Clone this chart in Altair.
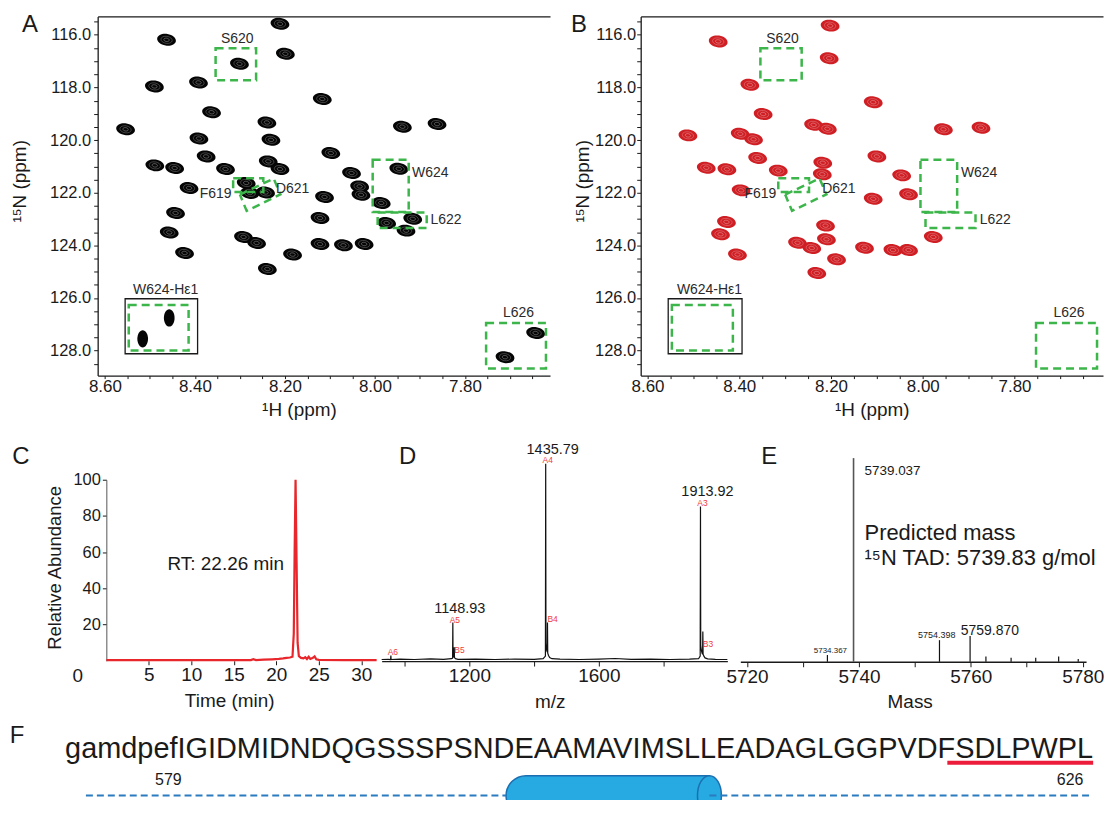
import altair as alt
import pandas as pd

W, H = 1100, 792
FONT = "Liberation Sans"
INK = "#1a1a1a"
GREEN = "#3cb54a"
RED = "#e8262b"
BLACKPEAK = "#050505"
REDPEAK = "#cf1f24"
ELL = "M-1,0A1,0.62,0,1,0,1,0A1,0.62,0,1,0,-1,0Z"
VELL = "M-0.62,0A0.62,1,0,1,0,0.62,0A0.62,1,0,1,0,-0.62,0Z"

# ---------------- Panel A: HSQC peaks (1H ppm, 15N ppm) ----------------
a_h = [8.211, 8.463, 8.199, 8.301, 8.490, 8.392, 8.117, 8.363, 8.554, 8.240,
       7.939, 7.862, 8.391, 8.231, 8.098, 8.375, 8.237, 8.211, 8.489, 8.445,
       8.332, 8.052, 7.947, 8.413, 8.286, 8.243, 8.278, 8.034, 8.031, 8.112,
       7.986, 7.916, 7.974, 7.931, 8.122, 8.443, 8.457, 8.292, 8.263, 8.122,
       8.070, 8.024, 8.423, 8.183, 8.239, 7.711, 7.643]
a_n = [115.58, 116.19, 116.72, 117.10, 117.96, 117.81, 118.44, 118.94, 119.59, 119.33,
       119.49, 119.39, 119.94, 119.99, 120.49, 120.62, 120.81, 121.10, 120.96, 121.06,
       121.10, 121.25, 121.09, 121.82, 121.63, 121.99, 122.01, 121.76, 122.08, 122.16,
       122.39, 122.99, 123.15, 123.44, 122.96, 122.77, 123.51, 123.68, 123.91, 123.95,
       124.00, 123.95, 124.29, 124.35, 124.90, 128.25, 127.33]
# inset (W624 side chain) peaks in panel A
inset_peak_h = [8.457, 8.516]
inset_peak_n = [126.76, 127.55]

# ---------------- Panel B: HSQC peaks ----------------
b_h = [8.202, 8.446, 8.204, 8.377, 8.108, 8.348, 8.512, 8.238, 8.208, 7.955,
       7.873, 8.398, 8.369, 8.100, 8.360, 8.218, 8.472, 8.427, 8.315, 8.046,
       8.219, 8.396, 8.031, 8.108, 8.428, 8.212, 8.441, 7.977, 8.210, 8.273,
       8.242, 8.127, 8.065, 8.031, 8.404, 8.188, 8.231]
b_n = [115.65, 116.25, 116.89, 117.90, 118.56, 119.01, 119.82, 119.42, 119.57, 119.59,
       119.53, 119.76, 119.97, 120.62, 120.68, 120.86, 121.05, 121.11, 121.16, 121.34,
       121.30, 121.91, 122.06, 122.23, 123.11, 123.25, 123.58, 123.68, 123.77, 123.90,
       124.10, 124.09, 124.18, 124.18, 124.35, 124.53, 125.05]

# dashed residue boxes (shared by A and B)
box_h1 = [8.354, 8.315, 8.005, 7.994, 7.753, 8.547]
box_h2 = [8.264, 8.248, 7.925, 7.885, 7.620, 8.414]
box_n1 = [116.51, 121.45, 120.75, 122.75, 126.95, 126.27]
box_n2 = [117.73, 121.97, 122.73, 123.34, 128.68, 128.00]
d621_h = [8.300, 8.225, 8.210, 8.285, 8.300]
d621_n = [122.07, 121.46, 122.06, 122.69, 122.07]
inset_h = [8.555, 8.394]
inset_n = [126.03, 128.12]
lab_text = ["S620", "F619", "D621", "W624", "L622", "L626", "W624-H\u03b51"]
lab_h = [8.306, 8.354, 8.183, 7.877, 7.842, 7.681, 8.465]
lab_n = [116.16, 122.04, 121.86, 121.25, 123.03, 126.57, 125.68]

# ---------------- Panel C: chromatogram ----------------
c_time = [0, 4, 8, 12, 16, 17.0, 17.3, 17.6, 18.5, 19.5,
          20.3, 20.8, 21.2, 21.6, 21.9, 22.05, 22.15, 22.26, 22.38, 22.5,
          22.65, 22.9, 23.2, 23.4, 23.6, 23.8, 24.0, 24.3, 24.5, 24.7,
          25.0, 28.0, 31.8]
c_abund = [0.4, 0.4, 0.4, 0.4, 0.4, 0.4, 0.9, 0.4, 0.6, 0.8,
           1.0, 1.3, 1.6, 1.8, 2.2, 15, 60, 100, 55, 10,
           2.5, 1.6, 1.3, 2.0, 1.0, 2.2, 1.0, 1.6, 2.4, 0.8,
           0.5, 0.4, 0.4]

# ---------------- Panel D: ESI m/z spectrum ----------------
d_mz = [929, 950, 956.8, 957.5, 958.3, 985, 1030, 1080, 1120, 1145,
        1148.2, 1148.93, 1149.6, 1150.6, 1152.6, 1153.3, 1154.0, 1157, 1165, 1220,
        1280, 1340, 1400, 1428, 1434.9, 1435.79, 1436.6, 1437.6, 1438.8, 1440.6,
        1441.3, 1442.1, 1444.5, 1448, 1455, 1480, 1540, 1600, 1650, 1700,
        1760, 1820, 1880, 1908, 1913.0, 1913.92, 1914.7, 1915.8, 1917.2, 1919.0,
        1920.5, 1921.2, 1922.0, 1924.5, 1928, 1936, 1960, 1997]
d_int = [0.8, 0.9, 0.8, 2.8, 0.8, 1.0, 0.8, 1.1, 0.9, 1.2,
         1.5, 19.5, 3.5, 2.5, 1.8, 7.0, 1.8, 1.2, 0.9, 1.0,
         0.8, 1.0, 0.9, 1.2, 2.5, 100, 9.0, 7.0, 5.5, 4.5,
         19.5, 4.0, 2.8, 1.8, 1.2, 1.0, 0.8, 1.0, 1.3, 0.9,
         1.0, 0.8, 1.0, 1.2, 2.5, 78.4, 8.0, 6.5, 5.0, 4.0,
         3.5, 15.0, 3.5, 2.5, 1.6, 1.1, 0.9, 0.8]
d_peak_lab = ["1435.79", "1913.92", "1148.93"]
d_peak_mz = [1435.79, 1913.92, 1148.93]
d_peak_y = [107, 85.9, 26.3]
d_ion_a = ["A4", "A3", "A5", "A6"]
d_ion_a_mz = [1435.79, 1913.92, 1148.93, 957.5]
d_ion_a_y = [101.7, 80.3, 20.7, 4.5]
d_ion_b = ["B4", "B5", "B3"]
d_ion_b_mz = [1441.3, 1153.3, 1921.2]
d_ion_b_y = [21.2, 5.7, 8.7]

# ---------------- Panel E: deconvoluted mass ----------------
e_mass = [5734.367, 5739.037, 5754.398, 5759.870, 5762.7, 5767.2, 5771.6, 5775.7, 5779.2]
e_int = [3.3, 100, 10.6, 12.7, 2.6, 2.0, 2.0, 2.6, 1.3]
e_lab = ["5739.037", "5734.367", "5754.398", "5759.870"]
e_lab_m = [5741.0, 5734.9, 5753.9, 5763.4]
e_lab_y = [93.6, 5.1, 13.1, 15.2]
e_lab_size = [13.5, 8, 9, 14]
e_note = ["Predicted mass", "\u00b9\u2075N TAD: 5739.83 g/mol"]
e_note_m = [5741.0, 5741.0]
e_note_y = [63.1, 50.8]

# ---------------- Panel F: sequence ----------------
tag_seq = "gamdpef"
core_seq = "IGIDMIDNDQGSSSPSNDEAAMAVIMSLLEADAGLGGPVDFSDLPWPL"
res_first, res_last = 579, 626
line_span = [574.7, 627.1]
helix_span = [596.6, 607.2]
motif_span = [619.6, 627.2]


def S(domain, rng):
    return alt.Scale(domain=domain, range=rng, nice=False, zero=False)


# ======================= NMR panels =======================
def nmr_panel(ph, pn, color, left, right, ytitle_x, xtitle_x, ylabpad, inset_peaks):
    xs = S([7.611, 8.616], [right, left]) if left < 200 else S([7.607, 8.615], [right, left])
    ys = S([115.3, 128.95], [7, 367.5])
    xt = [round(8.60 - 0.05 * i, 2) for i in range(20)]
    yt = [115.5 + 0.5 * i for i in range(27)]
    xax = alt.Axis(orient="bottom", offset=367.5 - H, values=xt,
                   labelExpr="indexof([8.6, 8.4, 8.2, 8, 7.8], round(datum.value*100)/100) >= 0 ? format(datum.value, '.2f') : ''",
                   tickSize=3, labelPadding=0, labelFontSize=17, title="\u00b9H (ppm)",
                   titleFontSize=19, titleFontWeight="normal", titleX=xtitle_x, titleY=34,
                   titleBaseline="middle", grid=False, domainWidth=1.3, labelFlush=False)
    yax = alt.Axis(orient="left", offset=-left, values=yt,
                   labelExpr="datum.value % 2 == 0 ? format(datum.value, '.1f') : ''",
                   tickSize=4, labelPadding=ylabpad, labelFontSize=16.5, title="\u00b9\u2075N (ppm)",
                   titleFontSize=19, titleFontWeight="normal", titleAngle=270, titleX=ytitle_x,
                   titleY=172, titleBaseline="middle", grid=False, domainWidth=1.3, labelFlush=False)
    X = alt.X("h:Q", scale=xs, axis=xax)
    Y = alt.Y("n:Q", scale=ys, axis=yax)

    pk = pd.DataFrame({"h": ph, "n": pn})
    peaks = alt.Chart(pk).mark_point(shape=ELL, size=360, filled=True, color=color,
                                     opacity=1, angle=9, strokeWidth=0).encode(x=X, y=Y)
    rings = alt.Chart(pk).mark_point(shape=ELL, size=130, filled=False, color="white",
                                     opacity=0.45, angle=9, strokeWidth=0.5).encode(x=X, y=Y)
    rings2 = alt.Chart(pk).mark_point(shape=ELL, size=30, filled=False, color="white",
                                      opacity=0.6, angle=9, strokeWidth=0.5).encode(x=X, y=Y)
    inset = alt.Chart(pd.DataFrame({"h": [inset_h[0]], "h2": [inset_h[1]],
                                    "n": [inset_n[0]], "n2": [inset_n[1]]})).mark_rect(
        fill="white", stroke=INK, strokeWidth=1.3).encode(x=X, x2="h2:Q", y=Y, y2="n2:Q")
    layers = [peaks, rings, rings2, inset]
    if inset_peaks:
        ipk = pd.DataFrame({"h": inset_peak_h, "n": inset_peak_n})
        layers.append(alt.Chart(ipk).mark_point(shape=VELL, size=300, filled=True, color=color,
                                                opacity=1, strokeWidth=0).encode(x=X, y=Y))
    boxes = alt.Chart(pd.DataFrame({"h": box_h1, "h2": box_h2, "n": box_n1, "n2": box_n2})).mark_rect(
        filled=False, color=GREEN, strokeWidth=2.5, strokeDash=[8, 5]).encode(x=X, x2="h2:Q", y=Y, y2="n2:Q")
    d621 = alt.Chart(pd.DataFrame({"h": d621_h, "n": d621_n, "i": list(range(len(d621_h)))})).mark_line(
        color=GREEN, strokeWidth=2.5, strokeDash=[8, 5]).encode(x=X, y=Y, order="i:Q")
    labels = alt.Chart(pd.DataFrame({"h": lab_h, "n": lab_n, "t": lab_text})).mark_text(
        fontSize=14, color="#2a2a2a", font=FONT).encode(x=X, y=Y, text="t:N")
    layers += [boxes, d621, labels]
    main = alt.layer(*layers)
    top = alt.Chart(pd.DataFrame({"h": [8.0]})).mark_point(opacity=0).encode(
        x=alt.X("h:Q", scale=xs, axis=alt.Axis(orient="top", offset=-7, labels=False, ticks=False,
                                                title="", grid=False, domainWidth=1.3)))
    return alt.layer(main, top).resolve_axis(x="independent")


panelA = nmr_panel(a_h, a_n, BLACKPEAK, 90, 544, -78, 292, 3, True)
panelB = nmr_panel(b_h, b_n, REDPEAK, 635, 1099, -58, 867, 1, False)

# ======================= C =======================
cxs = S([0, 31.8], [98.7, 370])
cys = S([0, 100], [653.7, 472])
cX = alt.X("t:Q", scale=cxs, axis=alt.Axis(orient="bottom", offset=653.7 - H, values=[5, 10, 15, 20, 25, 30],
                                            format="d", domain=False, tickSize=4, labelPadding=1,
                                            labelFontSize=19, title="Time (min)", titleFontSize=19,
                                            titleFontWeight="normal", titleX=222, titleY=40,
                                            titleBaseline="middle", grid=False))
cY = alt.Y("a:Q", scale=cys, axis=alt.Axis(orient="left", offset=-98.7, values=[20, 40, 60, 80, 100],
                                            format="d", tickSize=4, labelPadding=2, labelFontSize=16.5,
                                            title="Relative Abundance", titleFontSize=18.5,
                                            titleFontWeight="normal", titleAngle=270, titleX=-52,
                                            titleY=560, titleBaseline="middle", grid=False,
                                            domainColor="#555"))
c_line = alt.Chart(pd.DataFrame({"t": c_time, "a": c_abund})).mark_line(
    color=RED, strokeWidth=2.2, strokeJoin="miter").encode(x=cX, y=cY)
c_text = alt.Chart(pd.DataFrame({"t": [7.2], "a": [53.2], "s": ["RT: 22.26 min"]})).mark_text(
    fontSize=19, color=INK, font=FONT, align="left").encode(x=cX, y=cY, text="s:N")
c_zero = alt.Chart(pd.DataFrame({"k": [0]})).mark_text(
    text="0", fontSize=19, color=INK, font=FONT).encode(x=alt.value(70), y=alt.value(669))
panelC = alt.layer(c_line, c_text, c_zero)

# ======================= D =======================
dxs = S([929, 1997], [375, 722])
dys = S([0, 100], [654, 456])
dX = alt.X("m:Q", scale=dxs, axis=alt.Axis(orient="bottom", offset=654 - H, values=[1000, 1200, 1400, 1600, 1800],
                                            labelExpr="(datum.value == 1200 || datum.value == 1600) ? format(datum.value, 'd') : ''",
                                            tickSize=5, labelPadding=1, labelFontSize=19, title="m/z",
                                            titleFontSize=19, titleFontWeight="normal", titleX=543.7,
                                            titleY=41, titleBaseline="middle", grid=False, domainWidth=1.3))
dY = alt.Y("v:Q", scale=dys, axis=None)
d_line = alt.Chart(pd.DataFrame({"m": d_mz, "v": d_int})).mark_line(color="#111", strokeWidth=1.2).encode(x=dX, y=dY)
d_num = alt.Chart(pd.DataFrame({"m": d_peak_mz, "v": d_peak_y, "s": d_peak_lab})).mark_text(
    fontSize=14.5, color=INK, font=FONT, dx=7).encode(x=dX, y=dY, text="s:N")
d_a = alt.Chart(pd.DataFrame({"m": d_ion_a_mz, "v": d_ion_a_y, "s": d_ion_a})).mark_text(
    fontSize=8.5, color="#f03c3c", font=FONT, dx=2).encode(x=dX, y=dY, text="s:N")
d_b = alt.Chart(pd.DataFrame({"m": d_ion_b_mz, "v": d_ion_b_y, "s": d_ion_b})).mark_text(
    fontSize=8.5, color="#f03c3c", font=FONT, align="left", dx=0).encode(x=dX, y=dY, text="s:N")
panelD = alt.layer(d_line, d_num, d_a, d_b)

# ======================= E =======================
exs = S([5718.8, 5780.6], [735, 1082])
eys = S([0, 100], [654.7, 450.3])
eX = alt.X("m:Q", scale=exs, axis=alt.Axis(orient="bottom", offset=654.7 - H,
                                            values=[5720, 5730, 5740, 5750, 5760, 5770, 5780],
                                            labelExpr="datum.value % 20 == 0 ? format(datum.value, 'd') : ''",
                                            tickSize=5, labelPadding=1, labelFontSize=19, title="Mass",
                                            titleFontSize=19, titleFontWeight="normal", titleX=905,
                                            titleY=40, titleBaseline="middle", grid=False, domainWidth=1.3))
eY = alt.Y("v:Q", scale=eys, axis=None)
e_df = pd.DataFrame({"m": e_mass, "v": e_int, "z": [0] * len(e_mass)})
e_main = alt.Chart(e_df.iloc[[1]]).mark_rule(color="#555", strokeWidth=1.6).encode(x=eX, y=eY, y2="z:Q")
e_rest = alt.Chart(e_df.drop(index=1)).mark_rule(color="#111", strokeWidth=1.2).encode(x=eX, y=eY, y2="z:Q")
e_first = alt.Chart(pd.DataFrame({"m": e_lab_m[:1], "v": e_lab_y[:1], "s": e_lab[:1]})).mark_text(
    color=INK, font=FONT, fontSize=13.5, align="left").encode(x=eX, y=eY, text="s:N")
e_notes = alt.Chart(pd.DataFrame({"m": e_note_m, "v": e_note_y, "s": e_note})).mark_text(
    color=INK, font=FONT, fontSize=22, align="left").encode(x=eX, y=eY, text="s:N")
e_small = alt.Chart(pd.DataFrame({"m": e_lab_m[1:], "v": e_lab_y[1:], "s": e_lab[1:],
                                  "f": e_lab_size[1:]})).mark_text(color=INK, font=FONT).encode(
    x=eX, y=eY, text="s:N", size=alt.Size("f:Q", scale=None, legend=None))
panelE = alt.layer(e_main, e_rest, e_first, e_small, e_notes)

# ======================= F =======================
fxs = S([res_first, res_last], [161, 1066])
fX = alt.X("r:Q", scale=fxs, axis=None)
f_dash = alt.Chart(pd.DataFrame({"r": [line_span[0], helix_span[1]], "r2": [helix_span[0], line_span[1]]})).mark_rule(
    color="#2b7bc0", strokeWidth=2, strokeDash=[7, 4]).encode(x=fX, x2="r2:Q", y=alt.value(789))
f_body = alt.Chart(pd.DataFrame({"r": [helix_span[0]], "r2": [helix_span[1]]})).mark_rect(
    color="#27a9e1", stroke="#1b6fb0", strokeWidth=1.5, cornerRadiusTopLeft=20,
    cornerRadiusBottomLeft=20).encode(x=fX, x2="r2:Q", y=alt.value(769), y2=alt.value(809))
f_cap = alt.Chart(pd.DataFrame({"r": [helix_span[1]]})).mark_point(
    shape="M-0.6,0A0.6,1,0,1,0,0.6,0A0.6,1,0,1,0,-0.6,0Z", size=1600, filled=True, fill="#27a9e1",
    stroke="#1b6fb0", strokeWidth=1.5, opacity=1).encode(x=fX, y=alt.value(789))
f_under = alt.Chart(pd.DataFrame({"r": [motif_span[0]], "r2": [motif_span[1]]})).mark_rule(
    color="#ec1c3b", strokeWidth=4).encode(x=fX, x2="r2:Q", y=alt.value(756))
f_seq = alt.Chart(pd.DataFrame({"r": [motif_span[1]], "s": [tag_seq + core_seq]})).mark_text(
    fontSize=29, color=INK, font=FONT, align="right", baseline="alphabetic").encode(
    x=fX, y=alt.value(751), text="s:N")
f_num = alt.Chart(pd.DataFrame({"r": [res_first, res_last], "s": [str(res_first), str(res_last)]})).mark_text(
    fontSize=16, color=INK, font=FONT).encode(x=fX, y=alt.value(773), text="s:N")
panelF = alt.layer(f_body, f_cap, f_dash, f_under, f_seq, f_num)

# ======================= panel letters =======================
one = pd.DataFrame({"k": [0]})
letter_layers = []
for txt, px, py in [("A", 22, 16), ("B", 573, 16), ("C", 13, 449), ("D", 401, 449), ("E", 764, 449), ("F", 9, 729)]:
    letter_layers.append(alt.Chart(one).mark_text(text=txt, fontSize=24, color=INK, font=FONT).encode(
        x=alt.value(px), y=alt.value(py)))

chart = alt.layer(panelA, panelB, panelC, panelD, panelE, panelF, *letter_layers).resolve_scale(
    x="independent", y="independent"
).properties(
    width=W, height=H, autosize=alt.AutoSizeParams(type="none"), padding=0
).configure_view(strokeWidth=0).configure_axis(
    labelFont=FONT, titleFont=FONT, labelColor=INK, titleColor=INK, domainColor=INK, tickColor=INK
).configure_text(font=FONT)

chart.save("out.html", embed_options={"renderer": "svg", "actions": False})
